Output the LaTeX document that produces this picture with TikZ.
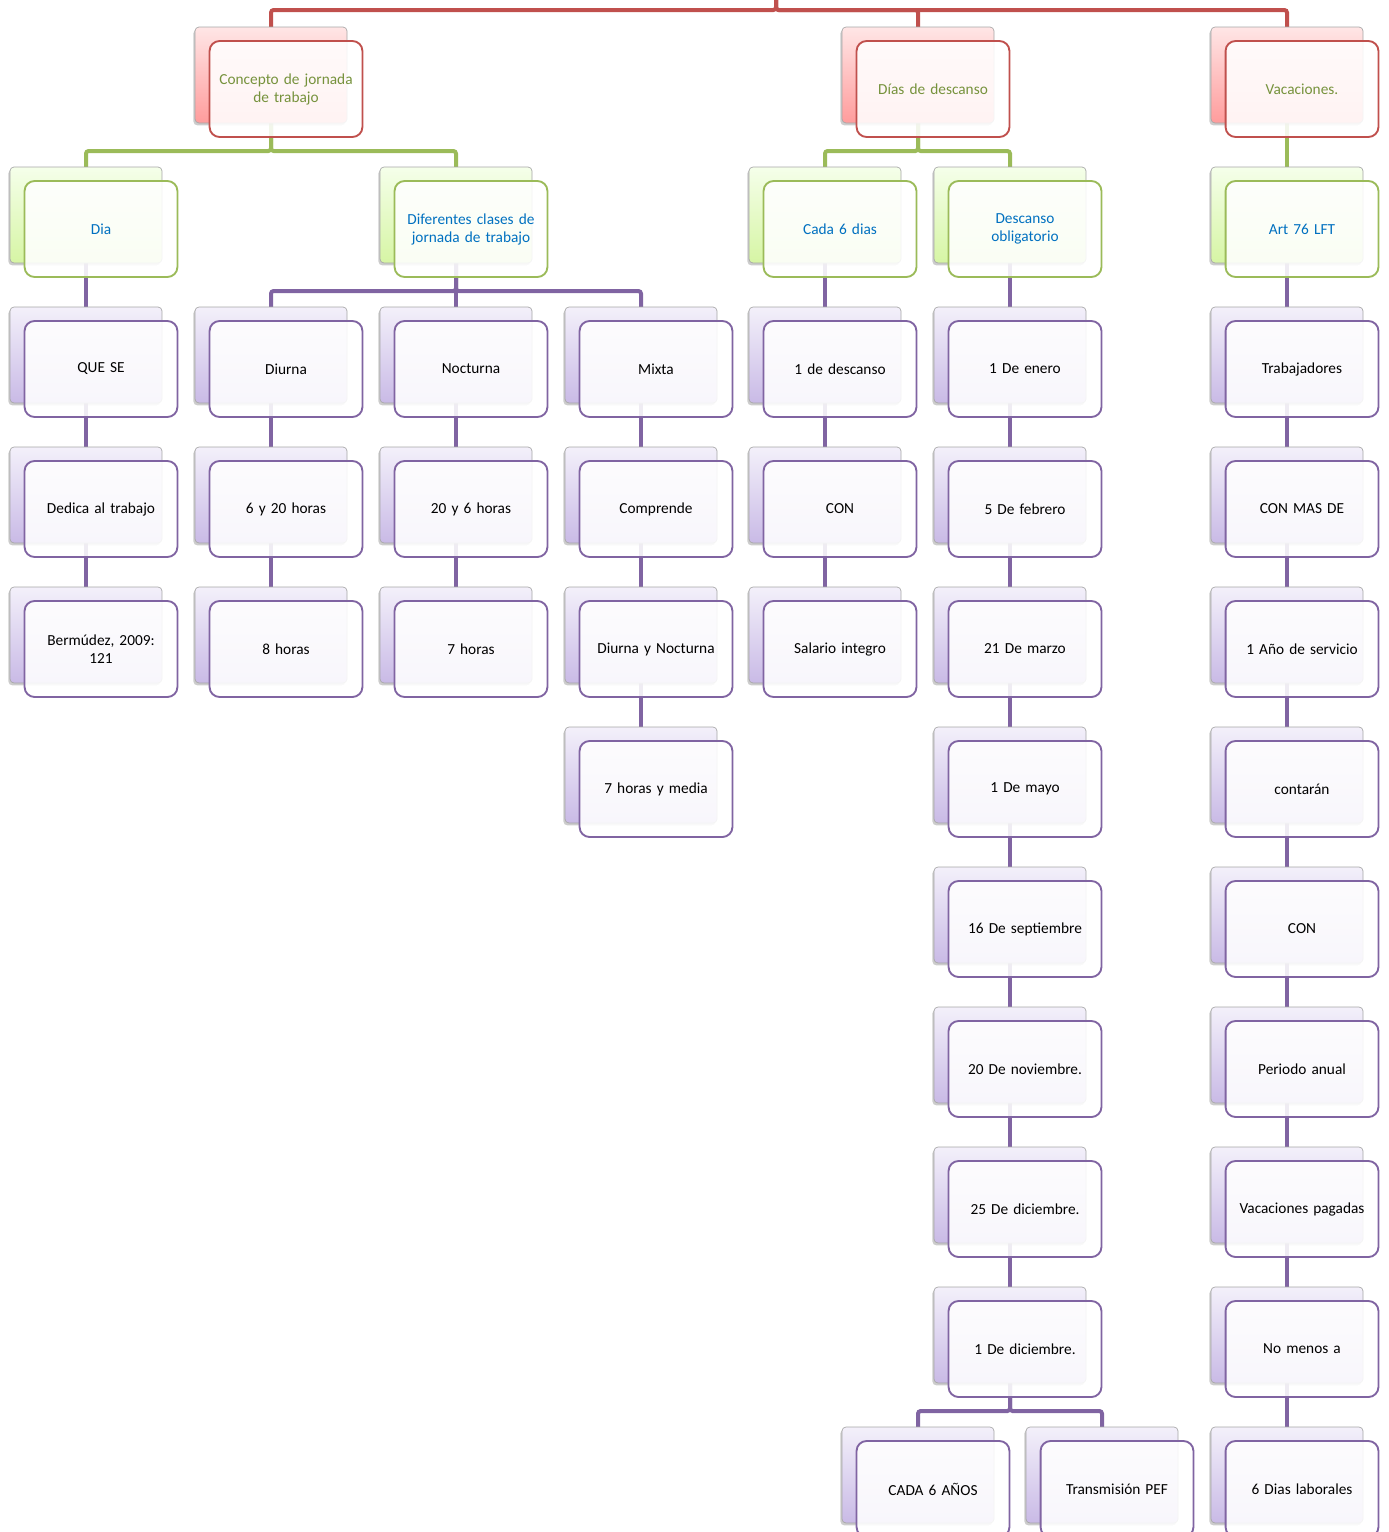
\documentclass[tikz,border=0pt]{standalone}
\usepackage{fontspec}
\setmainfont{Carlito}
\usetikzlibrary{shadows,backgrounds}

\definecolor{redln}{HTML}{C0504D}
\definecolor{grnln}{HTML}{9BBB59}
\definecolor{purln}{HTML}{8064A2}
\definecolor{redtop}{HTML}{FFE6E6}
\definecolor{redbot}{HTML}{FF9C9C}
\definecolor{grntop}{HTML}{F5FFEA}
\definecolor{grnbot}{HTML}{D6F5A4}
\definecolor{purtop}{HTML}{F3F0FA}
\definecolor{purbot}{HTML}{C9BAE6}
\definecolor{toptext}{HTML}{76923C}
\definecolor{subtext}{HTML}{0070C0}

% one entry of the map: shaded card behind, white card in front
\newcommand{\mapnode}[6]{%
  \node[backbox=#4] (#1-b) at (#2,#3) {};
  \node[frontbox=#4, text=#5] (#1) at (#2+15,#3+14) {#6};
}

\begin{document}
\begin{tikzpicture}[
    x=0.75pt, y=-0.75pt,
    backbox/.style={draw=gray!70, line width=0.5pt, rounded corners=3pt,
      top color=#1top, bottom color=#1bot, minimum width=114pt, minimum height=72pt,
      drop shadow={shadow xshift=-1.2pt, shadow yshift=-1.8pt, opacity=0.4}},
    frontbox/.style={draw=#1ln, line width=1.4pt, rounded corners=7.5pt,
      fill=white, fill opacity=0.88, text opacity=1, minimum width=114pt, minimum height=72pt,
      text width=108pt, align=center, font=\fontsize{11.5pt}{13.5pt}\selectfont},
    link/.style={draw=#1ln, line width=3pt, rounded corners=2pt}
  ]
    \useasboundingbox (0,0) rectangle (1389,1532);

    \coordinate (root) at (776,-66);

    % first level
    \mapnode{conc}{271}{75}{red}{toptext}{Concepto de jornada\\de trabajo}
    \mapnode{desc}{918}{75}{red}{toptext}{Días de descanso}
    \mapnode{vac}{1287}{75}{red}{toptext}{Vacaciones.}

    % second level
    \mapnode{dia}{86}{215}{grn}{subtext}{Dia}
    \mapnode{clases}{456}{215}{grn}{subtext}{Diferentes clases de\\jornada de trabajo}
    \mapnode{cada}{825}{215}{grn}{subtext}{Cada 6 dias}
    \mapnode{oblig}{1010}{215}{grn}{subtext}{Descanso\\obligatorio}
    \mapnode{art}{1287}{215}{grn}{subtext}{Art 76 LFT}

    % Dia
    \mapnode{quese}{86}{355}{pur}{black}{QUE SE}
    \mapnode{dedica}{86}{495}{pur}{black}{Dedica al trabajo}
    \mapnode{bermudez}{86}{635}{pur}{black}{Bermúdez, 2009:\\121}

    % clases de jornada
    \mapnode{diurna}{271}{355}{pur}{black}{Diurna}
    \mapnode{diurnah}{271}{495}{pur}{black}{6 y 20 horas}
    \mapnode{diurnat}{271}{635}{pur}{black}{8 horas}
    \mapnode{noct}{456}{355}{pur}{black}{Nocturna}
    \mapnode{nocth}{456}{495}{pur}{black}{20 y 6 horas}
    \mapnode{noctt}{456}{635}{pur}{black}{7 horas}
    \mapnode{mixta}{641}{355}{pur}{black}{Mixta}
    \mapnode{compr}{641}{495}{pur}{black}{Comprende}
    \mapnode{dyn}{641}{635}{pur}{black}{Diurna y Nocturna}
    \mapnode{mixtat}{641}{775}{pur}{black}{7 horas y media}

    % Cada 6 dias
    \mapnode{unod}{825}{355}{pur}{black}{1 de descanso}
    \mapnode{conb}{825}{495}{pur}{black}{CON}
    \mapnode{salario}{825}{635}{pur}{black}{Salario integro}

    % Descanso obligatorio
    \mapnode{enero}{1010}{355}{pur}{black}{1 De enero}
    \mapnode{febrero}{1010}{495}{pur}{black}{5 De febrero}
    \mapnode{marzo}{1010}{635}{pur}{black}{21 De marzo}
    \mapnode{mayo}{1010}{775}{pur}{black}{1 De mayo}
    \mapnode{sept}{1010}{915}{pur}{black}{16 De septiembre}
    \mapnode{nov}{1010}{1055}{pur}{black}{20 De noviembre.}
    \mapnode{dic}{1010}{1195}{pur}{black}{25 De diciembre.}
    \mapnode{dicu}{1010}{1335}{pur}{black}{1 De diciembre.}
    \mapnode{seis}{918}{1475}{pur}{black}{CADA 6 AÑOS}
    \mapnode{pef}{1102}{1475}{pur}{black}{Transmisión PEF}

    % Art 76 LFT
    \mapnode{trab}{1287}{355}{pur}{black}{Trabajadores}
    \mapnode{conmas}{1287}{495}{pur}{black}{CON MAS DE}
    \mapnode{anio}{1287}{635}{pur}{black}{1 Año de servicio}
    \mapnode{contar}{1287}{775}{pur}{black}{contarán}
    \mapnode{conv}{1287}{915}{pur}{black}{CON}
    \mapnode{periodo}{1287}{1055}{pur}{black}{Periodo anual}
    \mapnode{pagadas}{1287}{1195}{pur}{black}{Vacaciones pagadas}
    \mapnode{nomenos}{1287}{1335}{pur}{black}{No menos a}
    \mapnode{laborales}{1287}{1475}{pur}{black}{6 Dias laborales}

    \begin{pgfonlayer}{background}
      \foreach \p/\c in {root/conc-b, root/desc-b, root/vac-b}
        \draw[link=red] (\p.center) -- ++(0,76) -| (\c.center);
      \foreach \p/\c in {conc/dia, conc/clases, desc/cada, desc/oblig, vac/art}
        \draw[link=grn] (\p-b.center) -- ++(0,76) -| (\c-b.center);
      \foreach \p/\c in {dia/quese, quese/dedica, dedica/bermudez,
          clases/diurna, clases/noct, clases/mixta,
          diurna/diurnah, diurnah/diurnat, noct/nocth, nocth/noctt,
          mixta/compr, compr/dyn, dyn/mixtat,
          cada/unod, unod/conb, conb/salario,
          oblig/enero, enero/febrero, febrero/marzo, marzo/mayo, mayo/sept,
          sept/nov, nov/dic, dic/dicu, dicu/seis, dicu/pef,
          art/trab, trab/conmas, conmas/anio, anio/contar, contar/conv,
          conv/periodo, periodo/pagadas, pagadas/nomenos, nomenos/laborales}
        \draw[link=pur] (\p-b.center) -- ++(0,76) -| (\c-b.center);
    \end{pgfonlayer}
\end{tikzpicture}
\end{document}
